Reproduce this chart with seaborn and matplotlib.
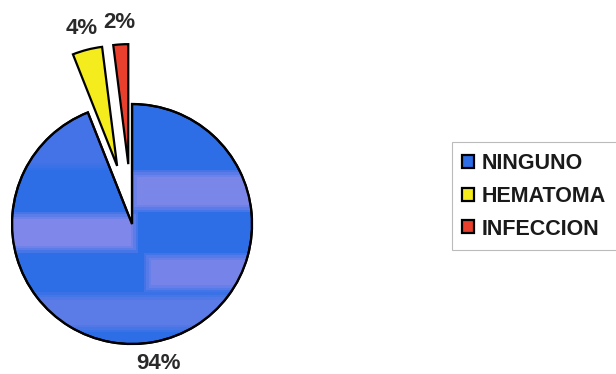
import matplotlib
matplotlib.use("Agg")
import matplotlib.pyplot as plt
from matplotlib.patches import Rectangle, Wedge
import seaborn as sns

categories = ["NINGUNO", "HEMATOMA", "INFECCION"]
values = [94, 4, 2]
colors = ["#2d6de6", "#f4ec1c", "#e8402c"]
explode = [0.0, 0.5, 0.5]

sns.set_theme(style="white")
plt.rcParams["font.family"] = ["Liberation Sans", "DejaVu Sans"]

fig = plt.figure(figsize=(6.16, 3.74), dpi=100)
ax = fig.add_axes([0, 0, 1, 1])

wedges, texts, autotexts = ax.pie(
    values,
    colors=colors,
    explode=explode,
    startangle=90,
    counterclock=False,
    radius=1.0,
    autopct="%1.0f%%",
    pctdistance=1.18,
    wedgeprops=dict(edgecolor="black", linewidth=1.6),
    textprops=dict(fontsize=16, color="#2a2a2a", fontweight="bold"),
)

# soft lavender banding across the large wedge (x0, x1, y0, y1, strength)
bands = [
    (-1.1, -0.05, 0.45, 1.05, 0.14),
    (-0.02, 1.1, 0.10, 0.45, 0.55),
    (-1.1, 0.05, -0.24, 0.10, 0.58),
    (0.10, 1.1, -0.57, -0.24, 0.50),
    (-1.1, 1.1, -0.90, -0.57, 0.30),
]
base = wedges[0]
for x0, x1, y0, y1, a in bands:
    # feather each band's edges with a few stacked layers
    for k in range(4):
        pad = 0.02 * k
        r = Rectangle((x0 + pad, y0 + pad), x1 - x0 - 2 * pad, y1 - y0 - 2 * pad,
                      facecolor="#e0a8f0", edgecolor="none", alpha=a / 4,
                      zorder=base.get_zorder() + 0.1)
        ax.add_patch(r)
        r.set_clip_path(base)

# outline drawn on top of the banding
ax.add_patch(Wedge(base.center, base.r, base.theta1, base.theta2,
                   fill=False, edgecolor="black", linewidth=1.6,
                   zorder=base.get_zorder() + 0.2))

ax.set_aspect("equal")
ax.set_xlim(-1.1, 4.033)
ax.set_ylim(-1.25, 1.867)
ax.axis("off")

leg = fig.legend(
    wedges, categories,
    loc="upper left",
    bbox_to_anchor=(0.733, 0.62),
    prop=dict(weight="bold", size=15.5),
    frameon=True,
    fancybox=False,
    edgecolor="#aaaaaa",
    handlelength=0.55,
    handleheight=0.55,
    handletextpad=0.35,
    labelspacing=0.55,
    borderpad=0.5,
    borderaxespad=0,
)
leg.get_frame().set_linewidth(0.8)
for t in leg.get_texts():
    t.set_color("#1a1a1a")

fig.savefig("out.png", dpi=100)
